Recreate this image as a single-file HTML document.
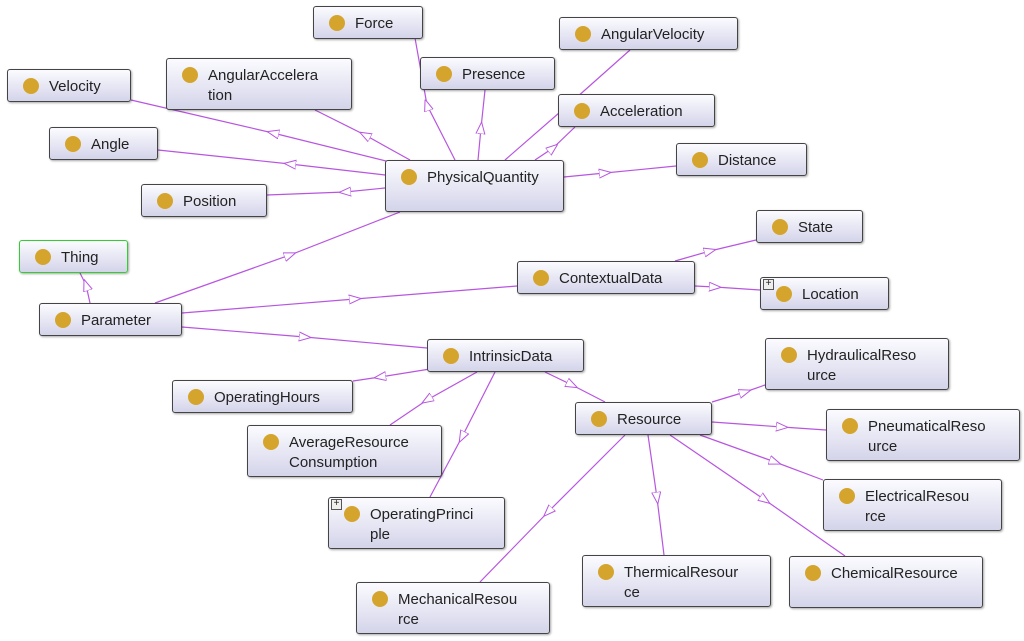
<!DOCTYPE html>
<html><head><meta charset="utf-8"><style>
body{margin:0;width:1024px;height:641px;background:#fff;position:relative;overflow:hidden;font-family:"Liberation Sans",sans-serif}
svg{position:absolute;left:0;top:0}
.n{position:absolute;box-sizing:border-box;border:1.5px solid #444;border-radius:3px;background:linear-gradient(#fbfbff,#d4d4ea);box-shadow:1px 1px 2px rgba(0,0,0,.35);font-size:15px;color:#222;padding:7px 0 0 41px;line-height:20px}
.n:before{content:"";position:absolute;left:15px;top:8px;width:16px;height:16px;border-radius:50%;background:#d4a42c}
.g{border-color:#3c3}
.p:after{content:"+";position:absolute;left:2px;top:1px;width:9px;height:9px;border:1px solid #555;background:#eee;font-size:10px;line-height:8px;text-align:center}
</style></head><body>
<svg width="1024" height="641">
<defs><marker id="a" viewBox="0 0 12 10" refX="6" refY="5" markerWidth="12" markerHeight="10" markerUnits="userSpaceOnUse" orient="auto"><path d="M0,0.5 L12,5 L0,9.5 Z" fill="#fff" stroke="#b855e0" stroke-width="1"/></marker></defs>
<g stroke="#b855e0" stroke-width="1.2" fill="none" marker-mid="url(#a)">
<polyline points="455,160 427,105 415,38"/>
<polyline points="478,160 481,128 485,90"/>
<polyline points="505,160 567,106 630,50"/>
<polyline points="535,160 553,148 575,127"/>
<polyline points="410,160 365,135 315,110"/>
<polyline points="390,162 273,133 131,100"/>
<polyline points="385,175 290,164 158,150"/>
<polyline points="385,188 345,192 267,195"/>
<polyline points="564,177 605,173 676,166"/>
<polyline points="90,303 86,285 80,273"/>
<polyline points="155,303 290,255 400,212"/>
<polyline points="182,313 355,299 517,286"/>
<polyline points="182,327 305,337 427,348"/>
<polyline points="675,261 710,251 756,240"/>
<polyline points="695,286 715,287 760,290"/>
<polyline points="430,369 380,377 353,381"/>
<polyline points="477,372 427,400 390,425"/>
<polyline points="495,372 462,437 430,497"/>
<polyline points="545,372 572,385 605,402"/>
<polyline points="712,402 745,392 765,385"/>
<polyline points="712,422 782,427 826,430"/>
<polyline points="700,435 775,462 823,480"/>
<polyline points="670,435 765,500 845,556"/>
<polyline points="648,435 657,498 664,555"/>
<polyline points="625,435 548,512 480,582"/>
</g></svg>
<div class="n" style="left:313px;top:6px;width:110px;height:33px">Force</div>
<div class="n" style="left:559px;top:17px;width:179px;height:33px">AngularVelocity</div>
<div class="n" style="left:7px;top:69px;width:124px;height:33px">Velocity</div>
<div class="n" style="left:166px;top:58px;width:186px;height:52px">AngularAccelera<br>tion</div>
<div class="n" style="left:420px;top:57px;width:135px;height:33px">Presence</div>
<div class="n" style="left:558px;top:94px;width:157px;height:33px">Acceleration</div>
<div class="n" style="left:49px;top:127px;width:109px;height:33px">Angle</div>
<div class="n" style="left:385px;top:160px;width:179px;height:52px;padding-top:7px">PhysicalQuantity</div>
<div class="n" style="left:676px;top:143px;width:131px;height:33px">Distance</div>
<div class="n" style="left:141px;top:184px;width:126px;height:33px">Position</div>
<div class="n" style="left:756px;top:210px;width:107px;height:33px">State</div>
<div class="n g" style="left:19px;top:240px;width:109px;height:33px">Thing</div>
<div class="n" style="left:517px;top:261px;width:178px;height:33px">ContextualData</div>
<div class="n p" style="left:760px;top:277px;width:129px;height:33px">Location</div>
<div class="n" style="left:39px;top:303px;width:143px;height:33px">Parameter</div>
<div class="n" style="left:427px;top:339px;width:157px;height:33px">IntrinsicData</div>
<div class="n" style="left:765px;top:338px;width:184px;height:52px">HydraulicalReso<br>urce</div>
<div class="n" style="left:172px;top:380px;width:181px;height:33px">OperatingHours</div>
<div class="n" style="left:575px;top:402px;width:137px;height:33px">Resource</div>
<div class="n" style="left:826px;top:409px;width:194px;height:52px">PneumaticalReso<br>urce</div>
<div class="n" style="left:247px;top:425px;width:195px;height:52px">AverageResource<br>Consumption</div>
<div class="n" style="left:823px;top:479px;width:179px;height:52px">ElectricalResou<br>rce</div>
<div class="n p" style="left:328px;top:497px;width:177px;height:52px">OperatingPrinci<br>ple</div>
<div class="n" style="left:582px;top:555px;width:189px;height:52px">ThermicalResour<br>ce</div>
<div class="n" style="left:789px;top:556px;width:194px;height:52px">ChemicalResource</div>
<div class="n" style="left:356px;top:582px;width:194px;height:52px">MechanicalResou<br>rce</div>
</body></html>
